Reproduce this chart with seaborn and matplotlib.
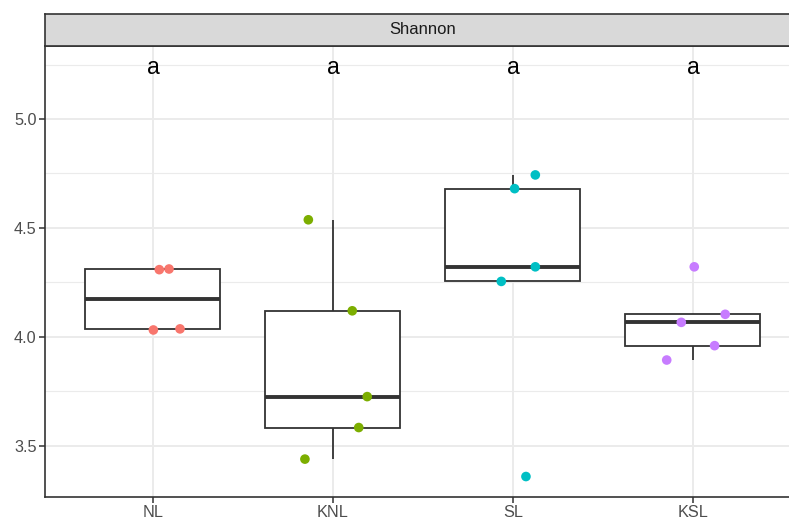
import numpy as np
import pandas as pd
import matplotlib
matplotlib.use("Agg")
import matplotlib.pyplot as plt
import seaborn as sns

# ---- data ----
groups = ["NL", "KNL", "SL", "KSL"]
nl_values = [4.308, 4.311, 4.031, 4.036]
knl_values = [3.438, 3.583, 3.725, 4.119, 4.537]
sl_values = [4.743, 4.680, 4.321, 4.254, 3.358]
ksl_values = [4.321, 4.103, 4.066, 3.959, 3.893]
# horizontal jitter of each point (category units)
nl_jitter = [0.035, 0.089, 0.002, 0.150]
knl_jitter = [-0.156, 0.143, 0.190, 0.107, -0.137]
sl_jitter = [0.124, 0.009, 0.124, -0.065, 0.072]
ksl_jitter = [0.007, 0.179, -0.065, 0.120, -0.146]
letters = ["a", "a", "a", "a"]
letter_y = 5.234
palette = ["#F8766D", "#7CAE00", "#00BFC4", "#C77CFF"]
facet_title = "Shannon"

values = [nl_values, knl_values, sl_values, ksl_values]
jitters = [nl_jitter, knl_jitter, sl_jitter, ksl_jitter]
rows = []
for i, (g, vs, js) in enumerate(zip(groups, values, jitters)):
    for v, j in zip(vs, js):
        rows.append({"group": g, "value": v, "xpos": i + j})
df = pd.DataFrame(rows)

sns.set_style("white")
plt.rcParams["font.family"] = ["Liberation Sans", "DejaVu Sans"]

W, H = 789, 518
fig = plt.figure(figsize=(W / 100, H / 100), dpi=100)
left_px, right_px = 45, 45 + 756
top_px, bottom_px, strip_top_px = 46, 497, 14
ax = fig.add_axes([left_px / W, 1 - bottom_px / H, (right_px - left_px) / W,
                   (bottom_px - top_px) / H])
ax_s = fig.add_axes([left_px / W, 1 - top_px / H, (right_px - left_px) / W,
                     (top_px - strip_top_px) / H])

# grid
ax.set_axisbelow(True)
ax.set_facecolor("white")
for yv in [3.5, 4.0, 4.5, 5.0]:
    ax.axhline(yv, color="#EBEBEB", lw=1.4, zorder=0)
for yv in [3.25, 3.75, 4.25, 4.75, 5.25]:
    ax.axhline(yv, color="#EBEBEB", lw=0.8, zorder=0)
for xv in range(len(groups)):
    ax.axvline(xv, color="#EBEBEB", lw=1.4, zorder=0)

sns.boxplot(data=df, x="group", y="value", order=groups, width=0.75,
            color="white", linecolor="#333333", linewidth=1.3,
            showfliers=False, showcaps=False, whis=1.5,
            medianprops=dict(linewidth=2.8, color="#333333"), ax=ax, zorder=2)

sns.scatterplot(data=df, x="xpos", y="value", hue="group", hue_order=groups,
                palette=palette, s=48, edgecolor="none", legend=False,
                ax=ax, zorder=3)

for i, t in enumerate(letters):
    ax.text(i, letter_y, t, ha="center", va="center", fontsize=16.5,
            color="black", zorder=4)

ax.set_xlim(-0.6, 3.6)
ax.set_ylim(3.264, 5.335)
ax.set_yticks([3.5, 4.0, 4.5, 5.0])
ax.set_yticklabels(["3.5", "4.0", "4.5", "5.0"])
ax.set_xticks(range(len(groups)))
ax.set_xticklabels(groups)
ax.set_xlabel("")
ax.set_ylabel("")
ax.tick_params(axis="both", colors="#333333", labelcolor="#4D4D4D",
               labelsize=11.7, length=4, width=1.1, pad=2,
               left=True, bottom=True)
for side in ["left", "bottom", "right", "top"]:
    ax.spines[side].set_color("#333333")
    ax.spines[side].set_linewidth(1.2)
ax.grid(False)

ax_s.set_facecolor("#D9D9D9")
ax_s.set_xticks([])
ax_s.set_yticks([])
for side in ["left", "bottom", "right", "top"]:
    ax_s.spines[side].set_color("#333333")
    ax_s.spines[side].set_linewidth(1.2)
ax_s.text(0.5, 0.5, facet_title, ha="center", va="center", fontsize=12,
          color="#1A1A1A", transform=ax_s.transAxes)

fig.savefig("out.png", dpi=100)
